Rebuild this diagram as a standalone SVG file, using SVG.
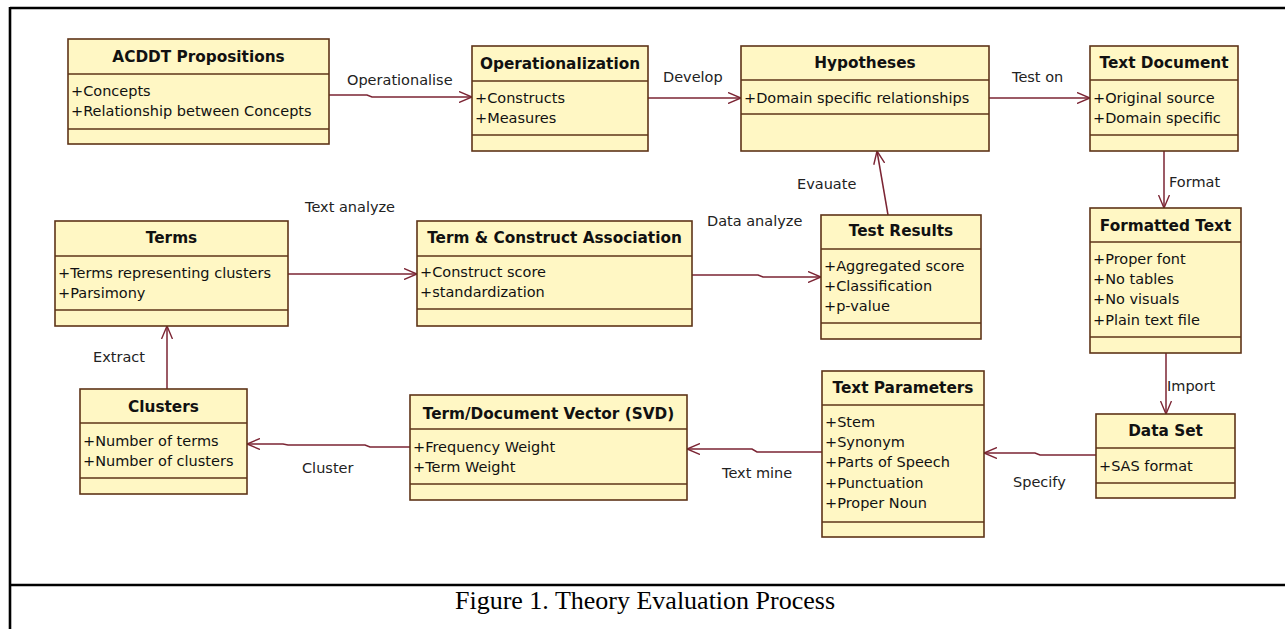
<svg xmlns="http://www.w3.org/2000/svg" width="1285" height="629" viewBox="0 0 1285 629">
<style>
.box{fill:#fff7c4;stroke:#5e3418;stroke-width:1.6}
.div{stroke:#5e3418;stroke-width:1.6}
.title{font-family:"DejaVu Sans",Verdana,sans-serif;font-weight:bold;font-size:15.3px;fill:#111;text-anchor:middle}
.attr{font-family:"DejaVu Sans",Verdana,sans-serif;font-size:14.5px;fill:#111}
.lbl{font-family:"DejaVu Sans",Verdana,sans-serif;font-size:14.5px;fill:#222}
.con{fill:none;stroke:#7b2433;stroke-width:1.5;marker-end:url(#open)}
.frame{stroke:#000;stroke-width:2.6}
.cap{font-family:"Liberation Serif","Times New Roman",serif;font-size:26px;fill:#000;text-anchor:middle}
</style>
<defs>
<marker id="open" viewBox="0 0 13 12" refX="13" refY="6" markerWidth="13" markerHeight="12" orient="auto" markerUnits="userSpaceOnUse">
<path d="M0,0.5 L13,6 L0,11.5" fill="none" stroke="#7b2433" stroke-width="1.4"/>
</marker>
</defs>
<rect x="0" y="0" width="1285" height="629" fill="#fff"/>
<g id="frame">
<line class="frame" x1="10" y1="8" x2="1285" y2="8"/>
<line class="frame" x1="10" y1="7" x2="10" y2="629"/>
<line class="frame" x1="10" y1="585" x2="1285" y2="585"/>
<text class="cap" x="645" y="609">Figure 1. Theory Evaluation Process</text>
</g>
<g id="connectors">
<path class="con" d="M329,95 H367 L372,97 H472"/>
<path class="con" d="M648,98 H741"/>
<path class="con" d="M989,98 H1090"/>
<path class="con" d="M1164,151 V208"/>
<path class="con" d="M1166,353 V414"/>
<path class="con" d="M1096,455 H1040 L1035,453 H984"/>
<path class="con" d="M822,452 H757 L752,449 H687"/>
<path class="con" d="M410,447 H370 L365,445 H288 L283,444 H247"/>
<path class="con" d="M167,389 V326"/>
<path class="con" d="M288,274 H417"/>
<path class="con" d="M692,275 H758 L763,277 H821"/>
<path class="con" d="M888,215 L877,151"/>
<text class="lbl" x="347" y="85">Operationalise</text>
<text class="lbl" x="663" y="82">Develop</text>
<text class="lbl" x="1012" y="82">Test on</text>
<text class="lbl" x="1169" y="187">Format</text>
<text class="lbl" x="1167" y="391">Import</text>
<text class="lbl" x="1013" y="487">Specify</text>
<text class="lbl" x="722" y="478">Text mine</text>
<text class="lbl" x="302" y="473">Cluster</text>
<text class="lbl" x="93" y="362">Extract</text>
<text class="lbl" x="305" y="212">Text analyze</text>
<text class="lbl" x="707" y="226">Data analyze</text>
<text class="lbl" x="797" y="189">Evauate</text>
</g>
<g id="acddt">
<rect class="box" x="68" y="39" width="261" height="105"/>
<line class="div" x1="68" y1="74" x2="329" y2="74"/>
<line class="div" x1="68" y1="129" x2="329" y2="129"/>
<text class="title" x="198.5" y="62">ACDDT Propositions</text>
<text class="attr" x="71" y="96">+Concepts</text>
<text class="attr" x="71" y="116">+Relationship between Concepts</text>
</g>
<g id="operationalization">
<rect class="box" x="472" y="46" width="176" height="105"/>
<line class="div" x1="472" y1="81" x2="648" y2="81"/>
<line class="div" x1="472" y1="135" x2="648" y2="135"/>
<text class="title" x="560" y="69">Operationalization</text>
<text class="attr" x="475" y="103">+Constructs</text>
<text class="attr" x="475" y="123">+Measures</text>
</g>
<g id="hypotheses">
<rect class="box" x="741" y="46" width="248" height="105"/>
<line class="div" x1="741" y1="80" x2="989" y2="80"/>
<line class="div" x1="741" y1="114" x2="989" y2="114"/>
<text class="title" x="865" y="68">Hypotheses</text>
<text class="attr" x="744" y="103">+Domain specific relationships</text>
</g>
<g id="text-document">
<rect class="box" x="1090" y="46" width="148" height="105"/>
<line class="div" x1="1090" y1="80" x2="1238" y2="80"/>
<line class="div" x1="1090" y1="135" x2="1238" y2="135"/>
<text class="title" x="1164" y="68">Text Document</text>
<text class="attr" x="1093" y="103">+Original source</text>
<text class="attr" x="1093" y="123">+Domain specific</text>
</g>
<g id="formatted-text">
<rect class="box" x="1090" y="208" width="151" height="145"/>
<line class="div" x1="1090" y1="242" x2="1241" y2="242"/>
<line class="div" x1="1090" y1="337" x2="1241" y2="337"/>
<text class="title" x="1165.5" y="231">Formatted Text</text>
<text class="attr" x="1093" y="264">+Proper font</text>
<text class="attr" x="1093" y="284">+No tables</text>
<text class="attr" x="1093" y="304">+No visuals</text>
<text class="attr" x="1093" y="325">+Plain text file</text>
</g>
<g id="data-set">
<rect class="box" x="1096" y="414" width="139" height="84"/>
<line class="div" x1="1096" y1="448" x2="1235" y2="448"/>
<line class="div" x1="1096" y1="483" x2="1235" y2="483"/>
<text class="title" x="1165.5" y="436">Data Set</text>
<text class="attr" x="1099" y="471">+SAS format</text>
</g>
<g id="text-parameters">
<rect class="box" x="822" y="371" width="162" height="166"/>
<line class="div" x1="822" y1="405" x2="984" y2="405"/>
<line class="div" x1="822" y1="522" x2="984" y2="522"/>
<text class="title" x="903" y="393">Text Parameters</text>
<text class="attr" x="825" y="427">+Stem</text>
<text class="attr" x="825" y="447">+Synonym</text>
<text class="attr" x="825" y="467">+Parts of Speech</text>
<text class="attr" x="825" y="488">+Punctuation</text>
<text class="attr" x="825" y="508">+Proper Noun</text>
</g>
<g id="term-document-vector">
<rect class="box" x="410" y="395" width="277" height="105"/>
<line class="div" x1="410" y1="429" x2="687" y2="429"/>
<line class="div" x1="410" y1="484" x2="687" y2="484"/>
<text class="title" x="548.5" y="419">Term/Document Vector (SVD)</text>
<text class="attr" x="413" y="452">+Frequency Weight</text>
<text class="attr" x="413" y="472">+Term Weight</text>
</g>
<g id="clusters">
<rect class="box" x="80" y="389" width="167" height="105"/>
<line class="div" x1="80" y1="423" x2="247" y2="423"/>
<line class="div" x1="80" y1="478" x2="247" y2="478"/>
<text class="title" x="163.5" y="412">Clusters</text>
<text class="attr" x="83" y="446">+Number of terms</text>
<text class="attr" x="83" y="466">+Number of clusters</text>
</g>
<g id="terms">
<rect class="box" x="55" y="221" width="233" height="105"/>
<line class="div" x1="55" y1="256" x2="288" y2="256"/>
<line class="div" x1="55" y1="310" x2="288" y2="310"/>
<text class="title" x="171.5" y="243">Terms</text>
<text class="attr" x="58" y="278">+Terms representing clusters</text>
<text class="attr" x="58" y="298">+Parsimony</text>
</g>
<g id="term-construct-association">
<rect class="box" x="417" y="221" width="275" height="105"/>
<line class="div" x1="417" y1="256" x2="692" y2="256"/>
<line class="div" x1="417" y1="309" x2="692" y2="309"/>
<text class="title" x="554.5" y="243">Term &amp; Construct Association</text>
<text class="attr" x="420" y="277">+Construct score</text>
<text class="attr" x="420" y="297">+standardization</text>
</g>
<g id="test-results">
<rect class="box" x="821" y="215" width="160" height="124"/>
<line class="div" x1="821" y1="249" x2="981" y2="249"/>
<line class="div" x1="821" y1="323" x2="981" y2="323"/>
<text class="title" x="901" y="236">Test Results</text>
<text class="attr" x="824" y="271">+Aggregated score</text>
<text class="attr" x="824" y="291">+Classification</text>
<text class="attr" x="824" y="311">+p-value</text>
</g>
</svg>
